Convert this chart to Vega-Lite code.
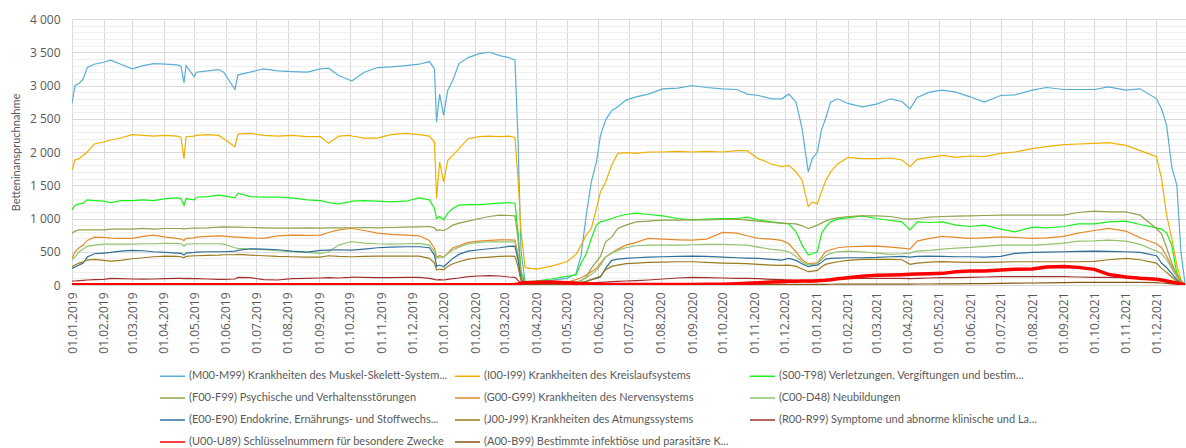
{
"$schema": "https://vega.github.io/schema/vega-lite/v6.json",
"width": 1115, "height": 266,
"autosize": {"type": "none"},
"padding": {"left": 72, "top": 19, "right": 0, "bottom": 163},
"background": "white",
"config": {"view": {"stroke": null}},
"datasets": {
"names": [
{"c":"M","n":"(M00-M99) Krankheiten des Muskel-Skelett-System..."},
{"c":"I","n":"(I00-I99) Krankheiten des Kreislaufsystems"},
{"c":"S","n":"(S00-T98) Verletzungen, Vergiftungen und bestim..."},
{"c":"F","n":"(F00-F99) Psychische und Verhaltensstörungen"},
{"c":"G","n":"(G00-G99) Krankheiten des Nervensystems"},
{"c":"C","n":"(C00-D48) Neubildungen"},
{"c":"E","n":"(E00-E90) Endokrine, Ernährungs- und Stoffwechs..."},
{"c":"J","n":"(J00-J99) Krankheiten des Atmungssystems"},
{"c":"R","n":"(R00-R99) Symptome und abnorme klinische und La..."},
{"c":"U","n":"(U00-U89) Schlüsselnummern für besondere Zwecke"},
{"c":"A","n":"(A00-B99) Bestimmte infektiöse und parasitäre K..."}
]},
"data": {"values": [
{"d":"2019-01-01","M":2730,"I":1730,"S":1130,"F":780,"G":400,"C":380,"E":250,"J":270,"R":60,"U":5,"A":8},
{"d":"2019-01-04","M":3000,"I":1880,"S":1200,"F":810,"G":500,"C":420,"E":270,"J":300,"R":60,"U":5,"A":8},
{"d":"2019-01-08","M":3030,"I":1900,"S":1220,"F":830,"G":560,"C":500,"E":300,"J":330,"R":65,"U":5,"A":9},
{"d":"2019-01-12","M":3100,"I":1950,"S":1230,"F":830,"G":600,"C":540,"E":330,"J":350,"R":70,"U":5,"A":9},
{"d":"2019-01-16","M":3270,"I":2000,"S":1280,"F":830,"G":670,"C":580,"E":420,"J":375,"R":75,"U":5,"A":10},
{"d":"2019-01-23","M":3320,"I":2120,"S":1270,"F":830,"G":720,"C":600,"E":470,"J":385,"R":80,"U":5,"A":10},
{"d":"2019-02-01","M":3350,"I":2150,"S":1260,"F":830,"G":715,"C":615,"E":480,"J":370,"R":85,"U":5,"A":10},
{"d":"2019-02-08","M":3380,"I":2180,"S":1240,"F":840,"G":705,"C":615,"E":490,"J":360,"R":100,"U":5,"A":10},
{"d":"2019-02-18","M":3320,"I":2210,"S":1270,"F":840,"G":700,"C":615,"E":510,"J":370,"R":95,"U":5,"A":10},
{"d":"2019-03-01","M":3250,"I":2260,"S":1270,"F":840,"G":700,"C":615,"E":520,"J":395,"R":90,"U":5,"A":12},
{"d":"2019-03-12","M":3300,"I":2250,"S":1280,"F":850,"G":730,"C":620,"E":515,"J":410,"R":88,"U":5,"A":12},
{"d":"2019-03-22","M":3330,"I":2240,"S":1270,"F":840,"G":750,"C":620,"E":500,"J":425,"R":90,"U":5,"A":12},
{"d":"2019-04-03","M":3320,"I":2250,"S":1300,"F":850,"G":720,"C":625,"E":490,"J":435,"R":95,"U":5,"A":12},
{"d":"2019-04-14","M":3310,"I":2240,"S":1310,"F":850,"G":700,"C":625,"E":480,"J":430,"R":100,"U":5,"A":12},
{"d":"2019-04-18","M":3290,"I":2220,"S":1300,"F":850,"G":690,"C":620,"E":475,"J":425,"R":100,"U":5,"A":12},
{"d":"2019-04-21","M":3040,"I":1900,"S":1200,"F":840,"G":670,"C":585,"E":450,"J":410,"R":95,"U":5,"A":12},
{"d":"2019-04-23","M":3300,"I":2230,"S":1300,"F":850,"G":700,"C":615,"E":480,"J":430,"R":100,"U":5,"A":12},
{"d":"2019-05-01","M":3130,"I":2240,"S":1280,"F":855,"G":710,"C":620,"E":490,"J":440,"R":95,"U":5,"A":13},
{"d":"2019-05-03","M":3200,"I":2250,"S":1320,"F":855,"G":720,"C":620,"E":495,"J":440,"R":95,"U":5,"A":13},
{"d":"2019-05-14","M":3220,"I":2260,"S":1330,"F":860,"G":730,"C":620,"E":500,"J":445,"R":90,"U":5,"A":13},
{"d":"2019-05-25","M":3240,"I":2250,"S":1350,"F":870,"G":740,"C":620,"E":500,"J":450,"R":85,"U":5,"A":14},
{"d":"2019-05-30","M":3200,"I":2200,"S":1340,"F":875,"G":735,"C":615,"E":500,"J":455,"R":85,"U":5,"A":14},
{"d":"2019-06-10","M":2940,"I":2080,"S":1310,"F":870,"G":720,"C":560,"E":510,"J":455,"R":90,"U":5,"A":14},
{"d":"2019-06-13","M":3160,"I":2270,"S":1380,"F":870,"G":720,"C":550,"E":520,"J":460,"R":115,"U":5,"A":14},
{"d":"2019-06-25","M":3200,"I":2280,"S":1330,"F":865,"G":710,"C":540,"E":545,"J":450,"R":110,"U":5,"A":14},
{"d":"2019-07-08","M":3250,"I":2250,"S":1320,"F":860,"G":700,"C":530,"E":540,"J":440,"R":80,"U":5,"A":14},
{"d":"2019-07-22","M":3220,"I":2240,"S":1320,"F":855,"G":740,"C":515,"E":530,"J":430,"R":75,"U":5,"A":13},
{"d":"2019-08-05","M":3210,"I":2250,"S":1310,"F":855,"G":750,"C":500,"E":510,"J":425,"R":95,"U":5,"A":13},
{"d":"2019-08-20","M":3200,"I":2230,"S":1280,"F":860,"G":745,"C":490,"E":495,"J":420,"R":100,"U":5,"A":12},
{"d":"2019-09-02","M":3250,"I":2230,"S":1270,"F":855,"G":750,"C":475,"E":520,"J":420,"R":105,"U":5,"A":12},
{"d":"2019-09-10","M":3260,"I":2130,"S":1240,"F":860,"G":790,"C":500,"E":525,"J":440,"R":110,"U":5,"A":12},
{"d":"2019-09-20","M":3150,"I":2240,"S":1220,"F":860,"G":830,"C":600,"E":530,"J":430,"R":105,"U":5,"A":12},
{"d":"2019-10-01","M":3080,"I":2250,"S":1250,"F":860,"G":850,"C":650,"E":525,"J":425,"R":115,"U":5,"A":12},
{"d":"2019-10-03","M":3070,"I":2240,"S":1260,"F":860,"G":850,"C":650,"E":525,"J":425,"R":120,"U":5,"A":12},
{"d":"2019-10-15","M":3200,"I":2210,"S":1270,"F":865,"G":820,"C":630,"E":540,"J":430,"R":115,"U":5,"A":12},
{"d":"2019-10-28","M":3270,"I":2210,"S":1260,"F":860,"G":780,"C":620,"E":560,"J":435,"R":110,"U":5,"A":12},
{"d":"2019-11-10","M":3280,"I":2260,"S":1250,"F":865,"G":760,"C":615,"E":570,"J":435,"R":110,"U":5,"A":12},
{"d":"2019-11-25","M":3300,"I":2280,"S":1260,"F":870,"G":750,"C":620,"E":575,"J":435,"R":115,"U":5,"A":12},
{"d":"2019-12-08","M":3320,"I":2260,"S":1310,"F":875,"G":740,"C":625,"E":575,"J":435,"R":115,"U":5,"A":12},
{"d":"2019-12-18","M":3360,"I":2240,"S":1280,"F":880,"G":670,"C":600,"E":560,"J":400,"R":100,"U":5,"A":12},
{"d":"2019-12-23","M":3250,"I":2150,"S":1150,"F":860,"G":550,"C":500,"E":450,"J":330,"R":85,"U":5,"A":10},
{"d":"2019-12-25","M":2450,"I":1300,"S":1000,"F":820,"G":420,"C":400,"E":280,"J":225,"R":75,"U":5,"A":9},
{"d":"2019-12-28","M":2870,"I":1850,"S":1030,"F":830,"G":440,"C":420,"E":300,"J":240,"R":80,"U":5,"A":9},
{"d":"2020-01-01","M":2550,"I":1550,"S":980,"F":820,"G":420,"C":420,"E":275,"J":230,"R":75,"U":5,"A":9},
{"d":"2020-01-05","M":2930,"I":1870,"S":1080,"F":850,"G":480,"C":470,"E":330,"J":280,"R":85,"U":5,"A":10},
{"d":"2020-01-10","M":3080,"I":1950,"S":1150,"F":900,"G":560,"C":530,"E":400,"J":320,"R":95,"U":5,"A":11},
{"d":"2020-01-16","M":3330,"I":2050,"S":1200,"F":930,"G":590,"C":570,"E":460,"J":350,"R":105,"U":5,"A":12},
{"d":"2020-01-25","M":3420,"I":2200,"S":1210,"F":960,"G":640,"C":620,"E":510,"J":390,"R":125,"U":5,"A":12},
{"d":"2020-02-05","M":3480,"I":2230,"S":1210,"F":1000,"G":660,"C":640,"E":530,"J":410,"R":135,"U":5,"A":12},
{"d":"2020-02-15","M":3500,"I":2240,"S":1220,"F":1030,"G":670,"C":650,"E":545,"J":420,"R":140,"U":5,"A":12},
{"d":"2020-02-25","M":3450,"I":2230,"S":1230,"F":1050,"G":680,"C":650,"E":560,"J":430,"R":135,"U":5,"A":12},
{"d":"2020-03-05","M":3420,"I":2240,"S":1240,"F":1045,"G":680,"C":650,"E":580,"J":435,"R":120,"U":5,"A":12},
{"d":"2020-03-11","M":3380,"I":2220,"S":1230,"F":1040,"G":675,"C":650,"E":585,"J":430,"R":115,"U":8,"A":12},
{"d":"2020-03-14","M":2200,"I":1600,"S":800,"F":700,"G":450,"C":430,"E":380,"J":280,"R":70,"U":15,"A":8},
{"d":"2020-03-17","M":500,"I":800,"S":200,"F":150,"G":100,"C":90,"E":80,"J":60,"R":25,"U":25,"A":5},
{"d":"2020-03-21","M":40,"I":260,"S":50,"F":40,"G":30,"C":25,"E":20,"J":15,"R":15,"U":35,"A":4},
{"d":"2020-04-01","M":50,"I":240,"S":60,"F":35,"G":25,"C":20,"E":15,"J":10,"R":12,"U":40,"A":3},
{"d":"2020-04-15","M":70,"I":280,"S":90,"F":40,"G":30,"C":25,"E":20,"J":12,"R":15,"U":45,"A":3},
{"d":"2020-05-01","M":100,"I":350,"S":130,"F":40,"G":40,"C":30,"E":25,"J":15,"R":15,"U":35,"A":3},
{"d":"2020-05-10","M":170,"I":460,"S":150,"F":45,"G":80,"C":45,"E":30,"J":20,"R":20,"U":25,"A":4},
{"d":"2020-05-15","M":450,"I":600,"S":330,"F":60,"G":110,"C":70,"E":40,"J":30,"R":22,"U":20,"A":4},
{"d":"2020-05-20","M":1050,"I":750,"S":470,"F":120,"G":150,"C":110,"E":55,"J":50,"R":25,"U":18,"A":5},
{"d":"2020-05-25","M":1550,"I":850,"S":700,"F":250,"G":200,"C":160,"E":80,"J":80,"R":30,"U":15,"A":5},
{"d":"2020-05-30","M":1850,"I":1150,"S":900,"F":350,"G":250,"C":220,"E":100,"J":110,"R":35,"U":12,"A":6},
{"d":"2020-06-03","M":2250,"I":1400,"S":950,"F":430,"G":330,"C":300,"E":120,"J":130,"R":40,"U":10,"A":6},
{"d":"2020-06-08","M":2480,"I":1550,"S":970,"F":650,"G":420,"C":420,"E":250,"J":230,"R":45,"U":10,"A":7},
{"d":"2020-06-14","M":2620,"I":1800,"S":1000,"F":720,"G":480,"C":480,"E":370,"J":280,"R":50,"U":8,"A":8},
{"d":"2020-06-20","M":2680,"I":1980,"S":1030,"F":850,"G":540,"C":520,"E":390,"J":300,"R":55,"U":8,"A":8},
{"d":"2020-06-28","M":2780,"I":1990,"S":1060,"F":900,"G":600,"C":560,"E":400,"J":320,"R":60,"U":8,"A":9},
{"d":"2020-07-08","M":2830,"I":1980,"S":1080,"F":950,"G":640,"C":590,"E":410,"J":330,"R":65,"U":7,"A":9},
{"d":"2020-07-20","M":2870,"I":2000,"S":1060,"F":960,"G":700,"C":600,"E":420,"J":340,"R":75,"U":7,"A":10},
{"d":"2020-08-03","M":2950,"I":2000,"S":1040,"F":975,"G":690,"C":600,"E":425,"J":345,"R":90,"U":7,"A":10},
{"d":"2020-08-18","M":2960,"I":2010,"S":1000,"F":975,"G":680,"C":600,"E":430,"J":350,"R":105,"U":8,"A":10},
{"d":"2020-09-01","M":3000,"I":2000,"S":980,"F":980,"G":675,"C":605,"E":435,"J":350,"R":115,"U":8,"A":10},
{"d":"2020-09-15","M":2970,"I":2010,"S":990,"F":980,"G":690,"C":610,"E":430,"J":340,"R":110,"U":10,"A":10},
{"d":"2020-10-01","M":2950,"I":2000,"S":1000,"F":985,"G":790,"C":610,"E":420,"J":330,"R":105,"U":12,"A":10},
{"d":"2020-10-15","M":2940,"I":2020,"S":1000,"F":990,"G":780,"C":605,"E":410,"J":325,"R":100,"U":18,"A":10},
{"d":"2020-10-25","M":2870,"I":2020,"S":1020,"F":975,"G":740,"C":600,"E":405,"J":320,"R":100,"U":25,"A":10},
{"d":"2020-11-05","M":2850,"I":1900,"S":980,"F":960,"G":700,"C":570,"E":400,"J":310,"R":95,"U":35,"A":10},
{"d":"2020-11-18","M":2800,"I":1820,"S":950,"F":940,"G":690,"C":535,"E":385,"J":300,"R":85,"U":45,"A":10},
{"d":"2020-11-28","M":2800,"I":1780,"S":930,"F":930,"G":670,"C":520,"E":375,"J":295,"R":80,"U":50,"A":10},
{"d":"2020-12-05","M":2870,"I":1800,"S":920,"F":925,"G":620,"C":500,"E":400,"J":300,"R":75,"U":55,"A":10},
{"d":"2020-12-12","M":2750,"I":1700,"S":800,"F":920,"G":500,"C":430,"E":370,"J":280,"R":70,"U":58,"A":10},
{"d":"2020-12-18","M":2350,"I":1580,"S":600,"F":890,"G":380,"C":350,"E":320,"J":240,"R":60,"U":60,"A":9},
{"d":"2020-12-24","M":1700,"I":1180,"S":450,"F":850,"G":320,"C":300,"E":275,"J":200,"R":45,"U":60,"A":8},
{"d":"2020-12-28","M":1900,"I":1250,"S":470,"F":870,"G":330,"C":310,"E":290,"J":210,"R":50,"U":62,"A":8},
{"d":"2021-01-02","M":2000,"I":1220,"S":500,"F":900,"G":330,"C":325,"E":300,"J":220,"R":55,"U":65,"A":9},
{"d":"2021-01-06","M":2330,"I":1400,"S":770,"F":930,"G":420,"C":380,"E":340,"J":270,"R":65,"U":68,"A":10},
{"d":"2021-01-10","M":2500,"I":1560,"S":870,"F":960,"G":500,"C":440,"E":390,"J":310,"R":75,"U":72,"A":10},
{"d":"2021-01-15","M":2750,"I":1700,"S":950,"F":990,"G":530,"C":475,"E":400,"J":330,"R":85,"U":80,"A":11},
{"d":"2021-01-22","M":2800,"I":1820,"S":990,"F":1010,"G":560,"C":500,"E":405,"J":350,"R":90,"U":95,"A":12},
{"d":"2021-02-01","M":2730,"I":1920,"S":1010,"F":1030,"G":575,"C":510,"E":410,"J":370,"R":95,"U":110,"A":12},
{"d":"2021-02-15","M":2680,"I":1900,"S":1040,"F":1040,"G":580,"C":500,"E":410,"J":385,"R":100,"U":130,"A":13},
{"d":"2021-03-01","M":2720,"I":1900,"S":1000,"F":1040,"G":585,"C":480,"E":415,"J":385,"R":100,"U":145,"A":13},
{"d":"2021-03-15","M":2800,"I":1910,"S":970,"F":1030,"G":570,"C":460,"E":425,"J":385,"R":100,"U":150,"A":14},
{"d":"2021-03-26","M":2760,"I":1880,"S":950,"F":1000,"G":555,"C":470,"E":430,"J":380,"R":100,"U":155,"A":14},
{"d":"2021-04-03","M":2650,"I":1780,"S":830,"F":990,"G":540,"C":480,"E":420,"J":310,"R":95,"U":160,"A":14},
{"d":"2021-04-10","M":2820,"I":1890,"S":950,"F":1000,"G":660,"C":510,"E":430,"J":330,"R":100,"U":165,"A":15},
{"d":"2021-04-22","M":2900,"I":1920,"S":940,"F":1020,"G":700,"C":520,"E":435,"J":345,"R":105,"U":170,"A":15},
{"d":"2021-05-05","M":2930,"I":1950,"S":950,"F":1030,"G":730,"C":540,"E":430,"J":350,"R":110,"U":175,"A":16},
{"d":"2021-05-18","M":2900,"I":1920,"S":900,"F":1035,"G":715,"C":555,"E":425,"J":345,"R":110,"U":200,"A":18},
{"d":"2021-06-01","M":2830,"I":1940,"S":880,"F":1040,"G":700,"C":565,"E":425,"J":340,"R":115,"U":210,"A":20},
{"d":"2021-06-15","M":2750,"I":1930,"S":900,"F":1045,"G":710,"C":580,"E":420,"J":340,"R":120,"U":210,"A":22},
{"d":"2021-07-01","M":2850,"I":1980,"S":840,"F":1050,"G":725,"C":600,"E":430,"J":345,"R":125,"U":225,"A":25},
{"d":"2021-07-15","M":2860,"I":2000,"S":800,"F":1050,"G":715,"C":600,"E":475,"J":350,"R":125,"U":235,"A":28},
{"d":"2021-08-01","M":2930,"I":2050,"S":870,"F":1050,"G":700,"C":600,"E":490,"J":350,"R":125,"U":240,"A":30},
{"d":"2021-08-15","M":2970,"I":2080,"S":860,"F":1050,"G":710,"C":610,"E":495,"J":350,"R":125,"U":270,"A":32},
{"d":"2021-09-01","M":2940,"I":2110,"S":880,"F":1050,"G":730,"C":630,"E":500,"J":350,"R":125,"U":280,"A":35},
{"d":"2021-09-15","M":2940,"I":2120,"S":920,"F":1090,"G":780,"C":660,"E":505,"J":350,"R":120,"U":265,"A":38},
{"d":"2021-10-01","M":2940,"I":2130,"S":920,"F":1110,"G":820,"C":665,"E":510,"J":355,"R":115,"U":235,"A":40},
{"d":"2021-10-15","M":2980,"I":2140,"S":950,"F":1100,"G":850,"C":675,"E":505,"J":380,"R":115,"U":160,"A":40},
{"d":"2021-11-01","M":2930,"I":2100,"S":960,"F":1100,"G":810,"C":660,"E":500,"J":400,"R":110,"U":120,"A":40},
{"d":"2021-11-15","M":2950,"I":2020,"S":910,"F":1050,"G":710,"C":610,"E":490,"J":380,"R":100,"U":100,"A":38},
{"d":"2021-12-01","M":2800,"I":1930,"S":860,"F":850,"G":620,"C":510,"E":440,"J":330,"R":85,"U":85,"A":35},
{"d":"2021-12-06","M":2650,"I":1600,"S":840,"F":770,"G":560,"C":470,"E":330,"J":250,"R":70,"U":75,"A":30},
{"d":"2021-12-11","M":2400,"I":1050,"S":780,"F":560,"G":430,"C":380,"E":260,"J":190,"R":55,"U":60,"A":25},
{"d":"2021-12-16","M":1780,"I":700,"S":600,"F":330,"G":280,"C":250,"E":170,"J":120,"R":40,"U":45,"A":18},
{"d":"2021-12-21","M":1500,"I":300,"S":180,"F":150,"G":150,"C":120,"E":80,"J":60,"R":25,"U":30,"A":12},
{"d":"2021-12-25","M":500,"I":80,"S":60,"F":60,"G":40,"C":30,"E":30,"J":20,"R":10,"U":15,"A":6},
{"d":"2021-12-29","M":30,"I":0,"S":0,"F":0,"G":0,"C":0,"E":0,"J":0,"R":0,"U":5,"A":2}
]},
"transform": [
{"fold": ["M","I","S","F","G","C","E","J","R","A","U"], "as": ["c","v"]},
{"lookup": "c", "from": {"data": {"name": "names"}, "key": "c", "fields": ["n"]}}
],
"mark": {"type": "line", "clip": true},
"encoding": {
"x": {"field": "d", "type": "temporal",
 "scale": {"domain": [{"year": 2019, "month": 1, "date": 1}, {"year": 2021, "month": 12, "date": 31}]},
 "axis": {"title": null, "format": "%d.%m.%Y", "tickCount": {"interval": "month", "step": 1},
  "labelAngle": 270, "labelFont": "Open Sans", "labelFontSize": 12, "labelColor": "#595959",
  "labelPadding": 7, "ticks": false, "domain": false, "grid": true, "gridColor": "#d9d9d9",
  "labelOverlap": false, "labelFlush": false, "labelBound": false}},
"y": {"field": "v", "type": "quantitative",
 "scale": {"domain": [0, 4000], "nice": false},
 "axis": {"title": "Betteninanspruchnahme",
  "values": [0,100,200,300,400,500,600,700,800,900,1000,1100,1200,1300,1400,1500,1600,1700,1800,1900,2000,2100,2200,2300,2400,2500,2600,2700,2800,2900,3000,3100,3200,3300,3400,3500,3600,3700,3800,3900,4000],
  "labelExpr": "datum.value % 500 === 0 ? replace(format(datum.value, ','), ',', ' ') : ''",
  "gridColor": {"condition": {"test": "datum.value % 500 === 0", "value": "#d9d9d9"}, "value": "#efefef"},
  "ticks": false, "domain": false, "labelOverlap": false,
  "labelFont": "Open Sans", "labelFontSize": 12, "labelColor": "#595959", "labelPadding": 12,
  "titleFont": "Lato", "titleFontSize": 11, "titleFontWeight": "normal", "titleColor": "#595959", "titlePadding": 8}},
"color": {"field": "n", "type": "nominal",
 "scale": {"domain": [
  "(M00-M99) Krankheiten des Muskel-Skelett-System...",
  "(I00-I99) Krankheiten des Kreislaufsystems",
  "(S00-T98) Verletzungen, Vergiftungen und bestim...",
  "(F00-F99) Psychische und Verhaltensstörungen",
  "(G00-G99) Krankheiten des Nervensystems",
  "(C00-D48) Neubildungen",
  "(E00-E90) Endokrine, Ernährungs- und Stoffwechs...",
  "(J00-J99) Krankheiten des Atmungssystems",
  "(R00-R99) Symptome und abnorme klinische und La...",
  "(U00-U89) Schlüsselnummern für besondere Zwecke",
  "(A00-B99) Bestimmte infektiöse und parasitäre K..."],
  "range": ["#5aaed6","#f0b000","#1cf01c","#8fa44c","#e38a2c","#92c46e","#2f6f98","#9c7a1e","#a0302c","#ff0000","#8a5510"]},
 "legend": {"orient": "none", "legendX": 90, "legendY": 351.5, "columns": 3, "direction": "horizontal",
  "title": null, "symbolType": "M-5,0H5", "symbolSize": 25, "symbolStrokeWidth": 1.5, "symbolOffset": 5,
  "labelFont": "Lato", "labelFontSize": 11, "labelColor": "#595959", "labelOffset": 11, "labelLimit": 400,
  "gridAlign": "all", "columnPadding": 4, "rowPadding": 10}},
"strokeWidth": {"condition": {"test": "datum.c === 'U'", "value": 3.5}, "value": 1.2}
}
}
